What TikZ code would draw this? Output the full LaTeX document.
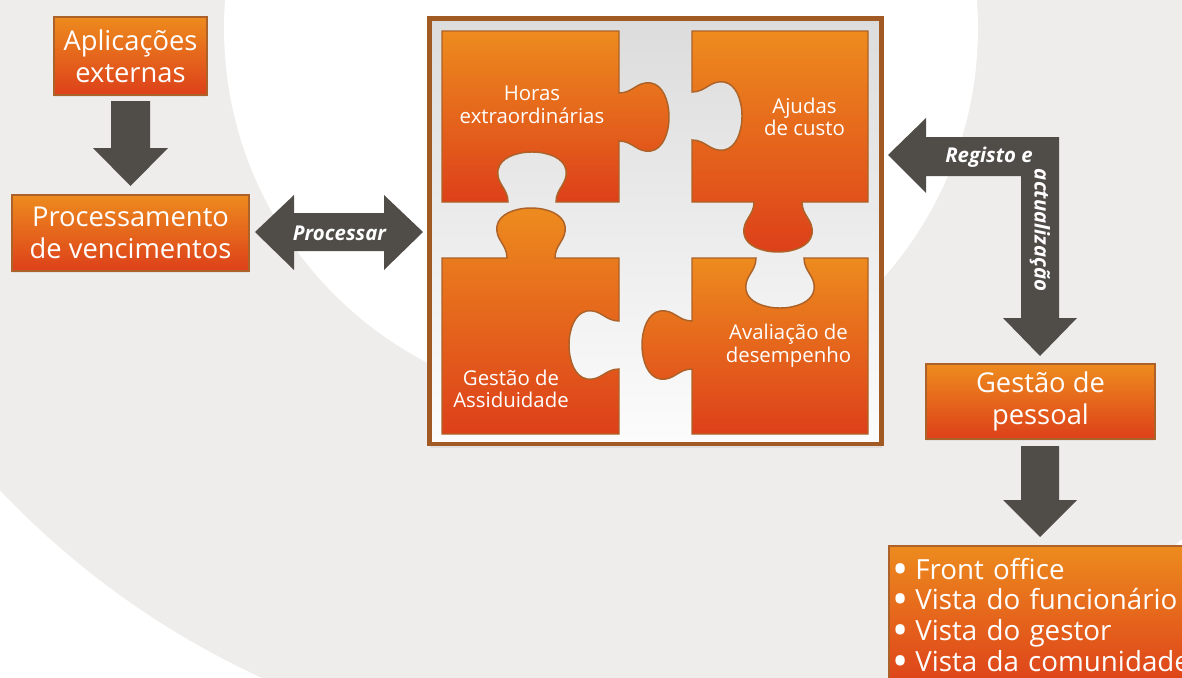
\documentclass[tikz,border=0pt]{standalone}
\usepackage{fontspec}
\setmainfont{Open Sans}
\usetikzlibrary{calc,shadows}
\definecolor{orTop}{RGB}{237,139,30}
\definecolor{orBot}{RGB}{221,64,26}
\definecolor{brd}{RGB}{172,98,40}
\definecolor{frameBrd}{RGB}{162,90,36}
\definecolor{arr}{RGB}{80,77,73}
\definecolor{bgGray}{RGB}{238,237,235}
\definecolor{frTop}{RGB}{220,220,220}
\definecolor{frBot}{RGB}{252,252,252}
% puzzle tab: #1 centre on edge, #2 direction of travel, #3 direction of bulge
\newcommand\tabseg[3]{-- ($(#1)-24*(#2)$)
 .. controls ($(#1)-24*(#2)+14*(#3)$) and ($(#1)-36*(#2)+18*(#3)$) .. ($(#1)-34*(#2)+32*(#3)$)
 .. controls ($(#1)-32*(#2)+44*(#3)$) and ($(#1)-16*(#2)+50*(#3)$) .. ($(#1)+50*(#3)$)
 .. controls ($(#1)+16*(#2)+50*(#3)$) and ($(#1)+32*(#2)+44*(#3)$) .. ($(#1)+34*(#2)+32*(#3)$)
 .. controls ($(#1)+36*(#2)+18*(#3)$) and ($(#1)+24*(#2)+14*(#3)$) .. ($(#1)+24*(#2)$)}
\newcommand\bul{\makebox[14.5pt][l]{\hspace{-2.5pt}\raisebox{-3.6pt}{\scalebox{1.55}{•}}}}
\begin{document}
\begin{tikzpicture}[x=0.75pt,y=-0.75pt,
  obox/.style={draw=brd, line width=1.5pt, top color=orTop, bottom color=orBot,
    text=white, align=center, inner sep=0pt,
    drop shadow={opacity=0.10, shadow xshift=0pt, shadow yshift=-1.5pt}},
  bigtxt/.style={font=\fontsize{20.5pt}{23.8pt}\selectfont},
  piece/.style={draw=brd, line width=1.1pt, top color=orTop, bottom color=orBot},
  ptxt/.style={text=white, align=center, inner sep=0pt, font=\fontsize{15.3pt}{17pt}\selectfont},
  blockarr/.style={fill=arr},
  lbl/.style={text=white, inner sep=0pt, font=\fontsize{15.3pt}{18pt}\selectfont\bfseries\itshape}]
\useasboundingbox (0,0) rectangle (1182,678);
\clip (0,0) rectangle (1182,678);
% background
\fill[white] (0,0) rectangle (1182,678);
\fill[bgGray] (616,-94) circle[radius=636.75pt];
\fill[white] (601,28) circle[radius=282.75pt];
\coordinate (E) at (1,0);
\coordinate (W) at (-1,0);
\coordinate (S) at (0,1);
\coordinate (N) at (0,-1);
% left column
\node[obox, bigtxt, minimum width=114.75pt, minimum height=58.5pt] (apl) at (130.5,56) {Aplicações\\externas};
\node[obox, bigtxt, minimum width=177.75pt, minimum height=57pt] (proc) at (130.5,233) {Processamento\\de vencimentos};
\fill[blockarr] (111,101) -- (150,101) -- (150,148) -- (168,148) -- (130.5,186) -- (93,148) -- (111,148) -- cycle;
% double arrow
\fill[blockarr] (255,232) -- (294,195) -- (294,213) -- (384,213) -- (384,195) -- (423,232) -- (384,270) -- (384,251) -- (294,251) -- (294,270) -- cycle;
\node[lbl, anchor=base] (plbl) at (339.5,240) {Processar};
% puzzle frame
\node[draw=frameBrd, line width=3.3pt, top color=frTop, bottom color=frBot,
  minimum width=339pt, minimum height=319.3pt, inner sep=0pt,
  drop shadow={opacity=0.12, shadow xshift=0pt, shadow yshift=-3pt}] (frame) at (655.5,231.2) {};
% pieces
\draw[piece] (442,31) -- (619,31) \tabseg{619,117}{S}{E} -- (619,202) \tabseg{532,202}{W}{N} -- (442,202) -- cycle;
\draw[piece] (692,31) -- (868,31) -- (868,202) \tabseg{778,202}{W}{S} -- (692,202) \tabseg{692,116}{N}{E} -- cycle;
\draw[piece] (442,258) \tabseg{531,258}{E}{N} -- (619,258) \tabseg{619,345}{S}{W} -- (619,434) -- (442,434) -- cycle;
\draw[piece] (692,258) \tabseg{780,258}{E}{S} -- (868,258) -- (868,434) -- (692,434) \tabseg{692,345}{N}{W} -- cycle;
\node[ptxt] (t1) at (532,104.7) {Horas\\extraordinárias};
\node[ptxt] (t2) at (804.5,116.7) {Ajudas\\de custo};
\node[ptxt] (t3) at (511,388.7) {Gestão de\\Assiduidade};
\node[ptxt] (t4) at (788.5,346) {Avaliação de\\desempenho};
% L arrow
\fill[blockarr] (888,155) -- (926,118) -- (926,137) -- (1059,137) -- (1059,318) -- (1077,318) -- (1040,356) -- (1003,318) -- (1021,318) -- (1021,176) -- (926,176) -- (926,193) -- cycle;
\node[lbl, anchor=base] (rlbl) at (989,162.3) {Registo e};
\node[lbl, rotate=-90] (albl) at (1040,230) {actualização};
% right column
\node[obox, bigtxt, minimum width=171.75pt, minimum height=56.25pt] (gp) at (1040.5,401.5) {Gestão de\\pessoal};
\fill[blockarr] (1021,446) -- (1059,446) -- (1059,500) -- (1077,500) -- (1040,537) -- (1003,500) -- (1021,500) -- cycle;
\node[obox, anchor=north west, text width=229.5pt, align=left, inner xsep=5.25pt, inner ysep=9pt,
  font=\fontsize{20.8pt}{23pt}\selectfont] (list) at (888,545)
  {\bul Front office\\
   \bul Vista do funcionário\\
   \bul Vista do gestor\\
   \bul Vista da comunidade};
\end{tikzpicture}
\end{document}
